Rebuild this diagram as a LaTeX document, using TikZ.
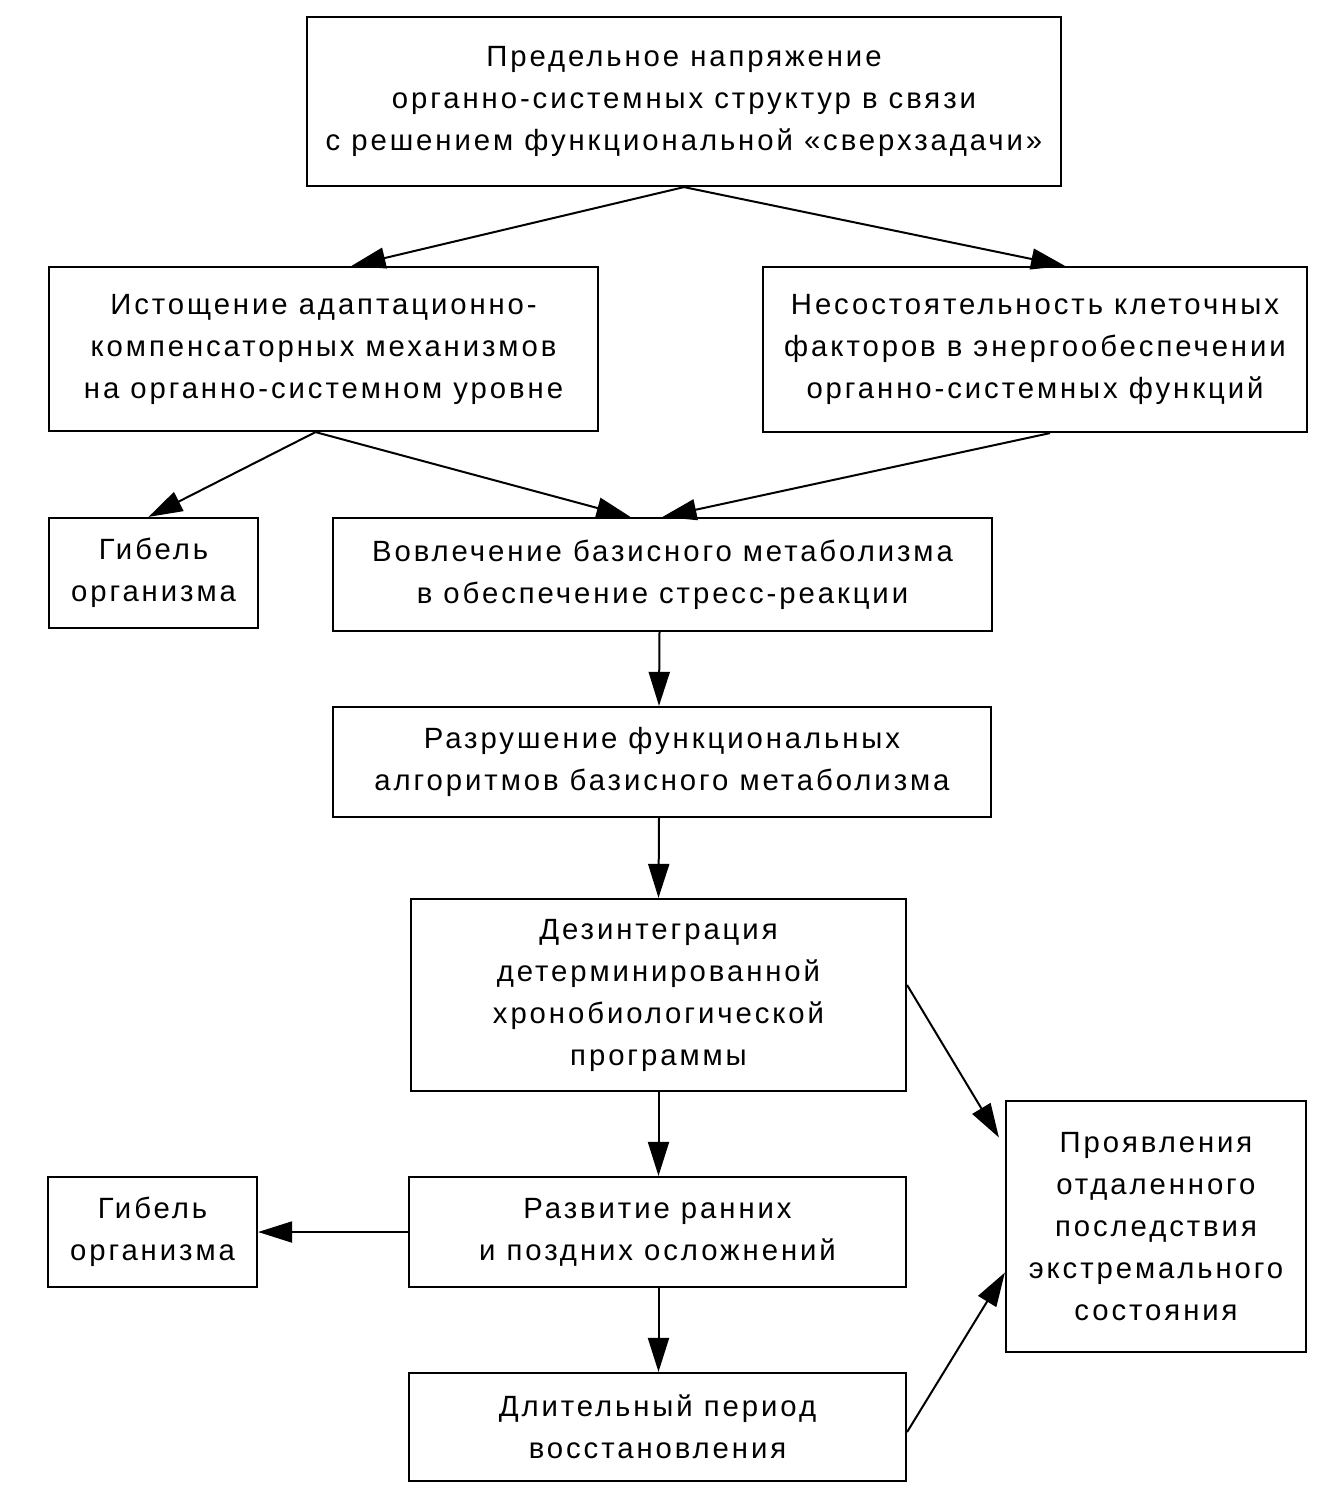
\documentclass[tikz,border=0pt]{standalone}
\usepackage{fontspec}
\setmainfont{Liberation Sans}[LetterSpace=10]
\usetikzlibrary{arrows.meta}
\begin{document}
\begin{tikzpicture}[x=1pt,y=-1pt,
  box/.style={draw,line width=2.2pt,align=center,inner sep=0pt,
    font=\fontsize{29.3}{42}\selectfont,
    execute at begin node={\rule{0pt}{37pt}}},
  arr/.style={line width=2pt,-{Triangle[length=34pt,width=21pt]}}]
\useasboundingbox (0,0) rectangle (1330,1500);
\node[box,minimum width=754,minimum height=169] (top) at (684,101.5)
  {Предельное напряжение\\органно-системных структур в связи\\с решением функциональной «сверхзадачи»};
\node[box,minimum width=549,minimum height=164] (left) at (323.5,349)
  {Истощение адаптационно-\\компенсаторных механизмов\\на органно-системном уровне};
\node[box,minimum width=544,minimum height=165] (right) at (1035,349.5)
  {Несостоятельность клеточных\\факторов в энергообеспечении\\органно-системных функций};
\node[box,minimum width=209,minimum height=110] (g1) at (153.5,573)
  {Гибель\\организма};
\node[box,minimum width=659,minimum height=113] (vov) at (662.5,574.5)
  {Вовлечение базисного метаболизма\\в обеспечение стресс-реакции};
\node[box,minimum width=658,minimum height=110] (raz) at (662,762)
  {Разрушение функциональных\\алгоритмов базисного метаболизма};
\node[box,minimum width=495,minimum height=192] (dez) at (658.5,995)
  {Дезинтеграция\\детерминированной\\хронобиологической\\программы};
\node[box,minimum width=497,minimum height=110] (razv) at (657.5,1232)
  {Развитие ранних\\и поздних осложнений};
\node[box,minimum width=209,minimum height=110] (g2) at (152.5,1232)
  {Гибель\\организма};
\node[box,minimum width=497,minimum height=108] (dlit) at (657.5,1427)
  {Длительный период\\восстановления};
\node[box,minimum width=300,minimum height=251] (proy) at (1156,1226.5)
  {Проявления\\отдаленного\\последствия\\экстремального\\состояния};

\draw[arr] (top.south) -- ([xshift=28pt]left.north);
\draw[arr] (top.south) -- ([xshift=30pt]right.north);
\draw[arr] ([xshift=-8pt]left.south) -- ([xshift=-5pt]g1.north);
\draw[arr] ([xshift=-8pt]left.south) -- ([xshift=-32pt]vov.north);
\draw[arr] ([xshift=15pt]right.south) -- (vov.north);
\draw[arr] ([xshift=-3pt]vov.south) -- ([xshift=-3pt]raz.north);
\draw[arr] ([xshift=-3pt]raz.south) -- ([xshift=0pt]dez.north);
\draw[arr] (dez.south) -- ([xshift=1pt]razv.north);
\draw[arr] (razv.west) -- (g2.east);
\draw[arr] ([xshift=1pt]razv.south) -- ([xshift=1pt]dlit.north);
\draw[arr] ([yshift=10pt]dez.east) -- ([xshift=-6pt,yshift=89pt]proy.west);
\draw[arr] ([yshift=-5pt]dlit.east) -- ([yshift=-46pt]proy.west);
\end{tikzpicture}
\end{document}
